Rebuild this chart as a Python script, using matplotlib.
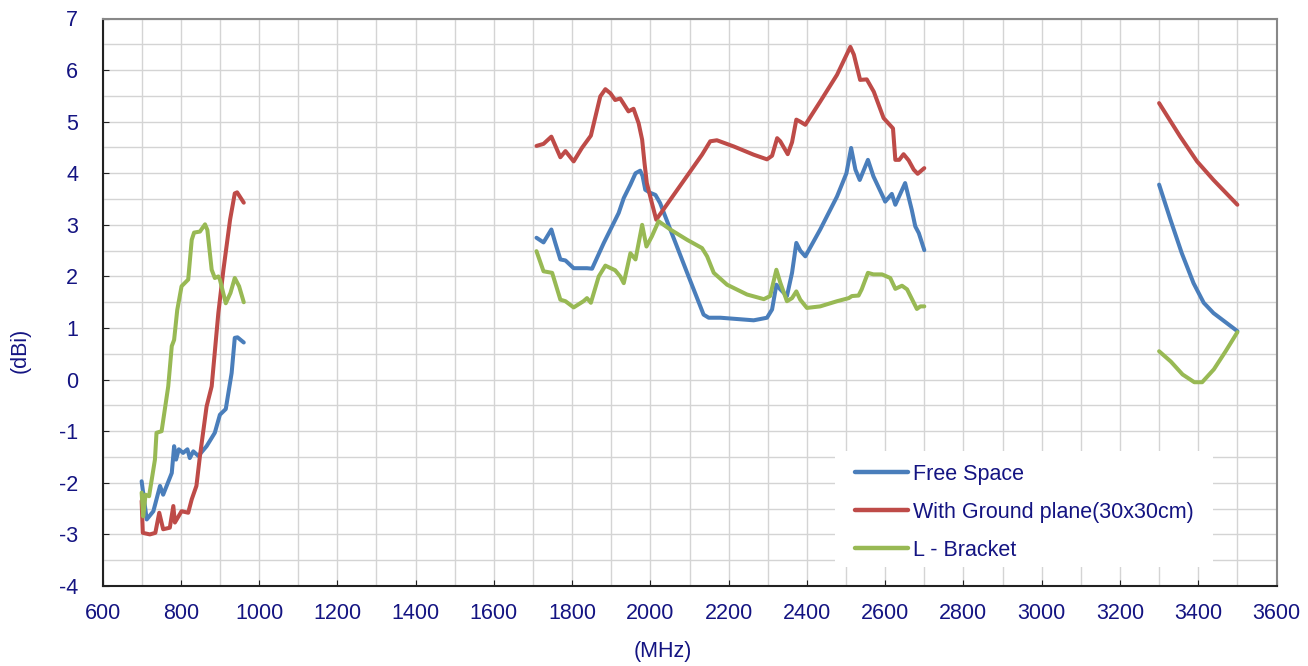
import matplotlib
matplotlib.use("Agg")
import matplotlib.pyplot as plt
from matplotlib.ticker import MultipleLocator
from matplotlib.patches import Rectangle

# ---------------- data ----------------
fs_low_x = [700, 713, 730, 747, 755, 777, 783, 788, 795, 806, 817, 823, 832, 845, 866, 887, 900, 915, 930, 938, 945, 961]
fs_low_y = [-1.97, -2.71, -2.55, -2.06, -2.23, -1.81, -1.29, -1.55, -1.35, -1.42, -1.35, -1.52, -1.39, -1.48, -1.29, -1.03, -0.68, -0.57, 0.13, 0.81, 0.82, 0.72]

gp_low_x = [700, 703, 721, 735, 745, 755, 772, 781, 785, 802, 819, 828, 840, 849, 866, 879, 896, 909, 926, 938, 944, 961]
gp_low_y = [-2.35, -2.97, -3.0, -2.97, -2.58, -2.9, -2.87, -2.45, -2.77, -2.55, -2.58, -2.32, -2.06, -1.48, -0.52, -0.13, 1.29, 2.13, 3.1, 3.61, 3.63, 3.43]

lb_low_x = [700, 704, 710, 719, 734, 738, 751, 768, 777, 783, 791, 802, 819, 828, 834, 849, 862, 868, 879, 887, 896, 900, 915, 927, 938, 949, 961]
lb_low_y = [-2.19, -2.65, -2.23, -2.26, -1.55, -1.03, -1.0, -0.13, 0.65, 0.77, 1.35, 1.81, 1.94, 2.71, 2.85, 2.87, 3.01, 2.9, 2.13, 1.97, 2.0, 1.94, 1.48, 1.68, 1.97, 1.81, 1.5]

fs_mid_x = [1709, 1727, 1747, 1757, 1770, 1783, 1804, 1838, 1851, 1881, 1919, 1932, 1949, 1962, 1974, 1980, 1987, 2000, 2013, 2025, 2051, 2094, 2136, 2149, 2179, 2264, 2298, 2311, 2322, 2332, 2349, 2362, 2373, 2383, 2396, 2434, 2477, 2501, 2513, 2524, 2535, 2556, 2570, 2596, 2600, 2617, 2626, 2651, 2668, 2677, 2686, 2700]
fs_mid_y = [2.75, 2.66, 2.91, 2.65, 2.33, 2.31, 2.16, 2.16, 2.15, 2.65, 3.23, 3.52, 3.78, 4.0, 4.05, 3.95, 3.68, 3.62, 3.58, 3.42, 2.91, 2.07, 1.26, 1.2, 1.2, 1.15, 1.2, 1.36, 1.84, 1.75, 1.62, 2.07, 2.65, 2.5, 2.39, 2.91, 3.55, 4.0, 4.49, 4.07, 3.87, 4.26, 3.94, 3.52, 3.45, 3.6, 3.39, 3.81, 3.29, 2.97, 2.84, 2.51]

gp_mid_x = [1709, 1727, 1747, 1770, 1783, 1804, 1825, 1848, 1872, 1885, 1898, 1910, 1923, 1944, 1957, 1970, 1979, 1985, 1991, 2004, 2015, 2132, 2153, 2170, 2213, 2264, 2298, 2311, 2324, 2332, 2351, 2362, 2373, 2383, 2396, 2434, 2477, 2511, 2520, 2536, 2553, 2571, 2596, 2620, 2626, 2636, 2647, 2660, 2673, 2683, 2700]
gp_mid_y = [4.53, 4.57, 4.71, 4.31, 4.43, 4.23, 4.49, 4.73, 5.49, 5.63, 5.55, 5.42, 5.45, 5.2, 5.25, 4.97, 4.65, 4.2, 3.81, 3.42, 3.1, 4.36, 4.62, 4.64, 4.52, 4.36, 4.27, 4.34, 4.68, 4.62, 4.37, 4.6, 5.04, 5.0, 4.94, 5.39, 5.91, 6.45, 6.3, 5.81, 5.82, 5.58, 5.07, 4.87, 4.26, 4.26, 4.37, 4.25, 4.07, 3.99, 4.1]

lb_mid_x = [1709, 1727, 1749, 1770, 1783, 1804, 1829, 1838, 1848, 1868, 1885, 1910, 1923, 1932, 1949, 1962, 1979, 1990, 2004, 2021, 2051, 2094, 2132, 2145, 2162, 2196, 2247, 2290, 2306, 2322, 2332, 2349, 2362, 2373, 2383, 2400, 2434, 2477, 2507, 2515, 2532, 2540, 2556, 2570, 2592, 2613, 2626, 2643, 2656, 2681, 2690, 2700]
lb_mid_y = [2.49, 2.1, 2.07, 1.55, 1.52, 1.40, 1.52, 1.58, 1.49, 2.0, 2.21, 2.12, 2.0, 1.87, 2.45, 2.33, 3.0, 2.58, 2.78, 3.07, 2.91, 2.71, 2.55, 2.39, 2.07, 1.84, 1.65, 1.56, 1.62, 2.13, 1.88, 1.52, 1.58, 1.71, 1.55, 1.39, 1.42, 1.52, 1.58, 1.62, 1.63, 1.75, 2.07, 2.04, 2.04, 1.97, 1.76, 1.82, 1.75, 1.37, 1.42, 1.42]

fs_high_x = [3300, 3329, 3358, 3388, 3414, 3439, 3500]
fs_high_y = [3.78, 3.1, 2.45, 1.87, 1.49, 1.29, 0.94]

gp_high_x = [3300, 3354, 3397, 3439, 3500]
gp_high_y = [5.36, 4.71, 4.23, 3.87, 3.39]

lb_high_x = [3300, 3330, 3360, 3390, 3410, 3440, 3470, 3500]
lb_high_y = [0.55, 0.35, 0.1, -0.05, -0.05, 0.2, 0.55, 0.92]

series_names = ["Free Space", "With Ground plane(30x30cm)", "L - Bracket"]
series_colors = ["#4a7ebb", "#be4b48", "#98b954"]

# ---------------- plot ----------------
plt.rcParams['font.family'] = ['Liberation Sans', 'DejaVu Sans']
plt.rcParams['axes.unicode_minus'] = False
txt = "#141482"
FS = 15.5

fig = plt.figure(figsize=(13.08, 6.66), dpi=100)
ax = fig.add_axes([102.5/1308, 1-586/666, (1276.5-102.5)/1308, (586-18.5)/666])

groups = [
    [(fs_low_x, fs_low_y), (fs_mid_x, fs_mid_y), (fs_high_x, fs_high_y)],
    [(gp_low_x, gp_low_y), (gp_mid_x, gp_mid_y), (gp_high_x, gp_high_y)],
    [(lb_low_x, lb_low_y), (lb_mid_x, lb_mid_y), (lb_high_x, lb_high_y)],
]
for name, col, segs in zip(series_names, series_colors, groups):
    for i, (xs, ys) in enumerate(segs):
        ax.plot(xs, ys, color=col, lw=2.9, solid_capstyle='round', solid_joinstyle='round',
                label=name if i == 0 else None, zorder=3)

ax.set_xlim(600, 3600)
ax.set_ylim(-4, 7)
ax.xaxis.set_major_locator(MultipleLocator(200))
ax.xaxis.set_minor_locator(MultipleLocator(100))
ax.yaxis.set_major_locator(MultipleLocator(1))
ax.yaxis.set_minor_locator(MultipleLocator(0.5))
ax.grid(which='both', color='#d4d4d4', lw=1.0, zorder=0)
ax.set_axisbelow(True)
ax.tick_params(which='major', direction='in', length=4, color='#222222', labelcolor=txt, labelsize=FS)
ax.tick_params(axis='x', pad=12)
ax.tick_params(axis='y', pad=17.5)
ax.tick_params(which='minor', length=0)

for s in ['left', 'bottom']:
    ax.spines[s].set_color('#222222')
    ax.spines[s].set_linewidth(1.5)
for s in ['top', 'right']:
    ax.spines[s].set_color('#888888')
    ax.spines[s].set_linewidth(1.5)

fig.text(20/1308, 1-350/666, "(dBi)", rotation=90, color=txt, fontsize=FS, ha='center', va='center')
fig.text(663/1308, 1-651/666, "(MHz)", color=txt, fontsize=FS, ha='center', va='center')

# legend background box (white, borderless)
px2x = lambda p: 600 + (p - 102.5) / 0.3914
py2y = lambda p: 7 - (p - 18.5) / 51.6
ax.add_patch(Rectangle((px2x(835), py2y(567)), px2x(1213) - px2x(835), py2y(451) - py2y(567),
                       facecolor='white', edgecolor='none', zorder=1))

leg = ax.legend(loc='upper left', bbox_to_anchor=((855 - 102.5) / 1174, (586 - 464) / 567.5),
                fontsize=FS, frameon=False, handlelength=2.45, handletextpad=0.25,
                labelspacing=0.78, borderpad=0, borderaxespad=0)
for t in leg.get_texts():
    t.set_color(txt)
for h in leg.get_lines():
    h.set_linewidth(3.2)

fig.savefig("out.png", dpi=100)
